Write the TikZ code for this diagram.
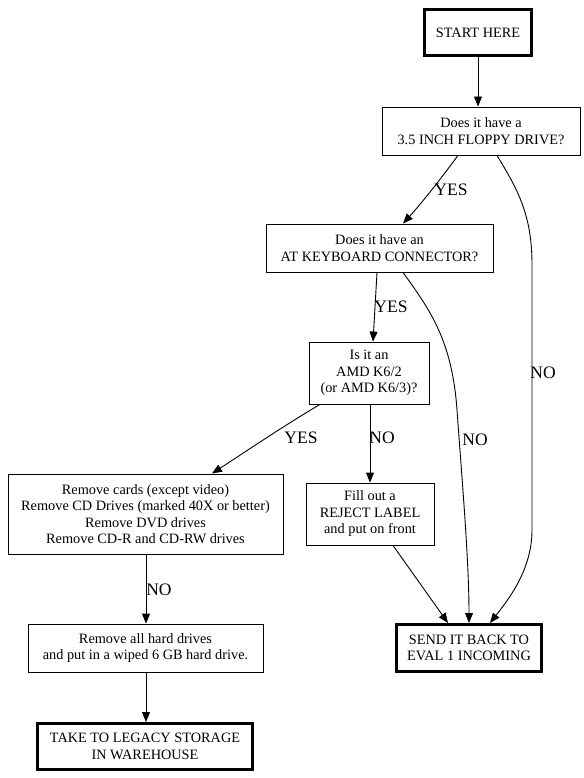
\documentclass[tikz,border=0pt]{standalone}
\usepackage{fontspec}
\setmainfont{Liberation Serif}
\usetikzlibrary{arrows.meta,calc}
\begin{document}
\begin{tikzpicture}[x=1pt,y=-1pt,
  box/.style={draw,line width=0.9pt,inner sep=0pt,align=center,
    font=\fontsize{14.3}{16.5}\selectfont},
  term/.style={box,line width=3pt},
  lab/.style={font=\fontsize{17.5}{20}\selectfont,inner sep=0pt},
  arr/.style={line width=0.9pt,-{Triangle[length=10pt,width=8pt]}}]
\useasboundingbox (0,0) rectangle (583,778);
\node[term,minimum width=107,minimum height=46] (start) at (478,32.5) {START HERE};
\node[box,minimum width=198,minimum height=48] (floppy) at (481,131) {Does it have a\\3.5 INCH FLOPPY DRIVE?};
\node[box,minimum width=227,minimum height=48] (atk) at (379.5,248) {Does it have an\\AT KEYBOARD CONNECTOR?};
\node[box,minimum width=120,minimum height=62] (amd) at (369,373) {Is it an\\AMD K6/2\\(or AMD K6/3)?};
\node[box,minimum width=275,minimum height=80] (rem) at (145.5,514) {Remove cards (except video)\\Remove CD Drives (marked 40X or better)\\Remove DVD drives\\Remove CD-R and CD-RW drives};
\node[box,minimum width=128,minimum height=62] (fill) at (370,514) {Fill out a\\REJECT LABEL\\and put on front};
\node[term,minimum width=145,minimum height=47] (send) at (469,648) {SEND IT BACK TO\\EVAL 1 INCOMING};
\node[box,minimum width=235,minimum height=48] (hdd) at (145.5,648) {Remove all hard drives\\and put in a wiped 6 GB hard drive.};
\node[term,minimum width=215,minimum height=46] (legacy) at (145,746.5) {TAKE TO LEGACY STORAGE\\IN WAREHOUSE};

\draw[arr] (start.south) -- (start.south |- floppy.north);
\draw[arr] ($(floppy.south)+(-23,0)$) .. controls (440,180) and (420,205) .. ($(atk.north)+(23.5,0)$);
\node[lab] (l1) at (451,190) {YES};
\draw[arr] ($(floppy.south)+(16,0)$) .. controls (518,190) and (532,215) .. (532,265) -- (532,530) .. controls (532,570) and (508,600) .. ($(send.north)+(21,0)$);
\node[lab] (l2) at (543,373) {NO};
\draw[arr] ($(atk.south)+(-2.5,0)$) -- ($(amd.north)+(4,0)$);
\node[lab] (l3) at (391,307) {YES};
\draw[arr] ($(atk.south)+(23.5,0)$) .. controls (430,310) and (452,340) .. (457,410) .. controls (462,480) and (469,560) .. (send.north);
\node[lab] (l4) at (475,440) {NO};
\draw[arr] ($(amd.south)+(-49,0)$) .. controls (285,425) and (245,452) .. ($(rem.north)+(66.5,0)$);
\node[lab] (l5) at (301,438) {YES};
\draw[arr] (fill.north |- amd.south) -- (fill.north);
\node[lab] (l6) at (382,438) {NO};
\draw[arr] ($(fill.south)+(23,0)$) -- ($(send.north)+(-21,0)$);
\draw[arr] (146,0 |- rem.south) -- (146,0 |- hdd.north);
\node[lab] (l7) at (159,590) {NO};
\draw[arr] (146,0 |- hdd.south) -- (146,0 |- legacy.north);
\end{tikzpicture}
\end{document}
